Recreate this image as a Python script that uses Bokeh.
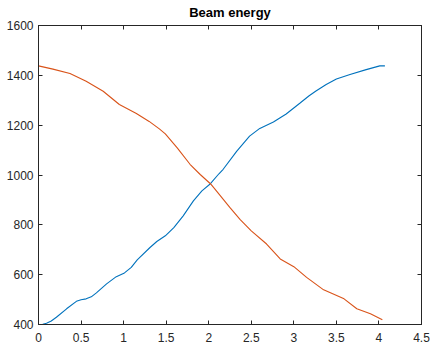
from bokeh.plotting import figure
from bokeh.models import (LinearAxis, FixedTicker, NumeralTickFormatter, Range1d,
                          CustomLabelingPolicy)
from bokeh.embed import file_html
from bokeh.resources import INLINE

# Rising energy trace: positions and values
rising_pos = [0.0, 0.05, 0.094, 0.15, 0.21, 0.33, 0.445, 0.5, 0.56, 0.62,
              0.68, 0.8, 0.914, 1.01, 1.09, 1.16, 1.31, 1.39, 1.49, 1.59,
              1.7, 1.82, 1.92, 2.02, 2.12, 2.17, 2.33, 2.48, 2.6, 2.76,
              2.91, 3.07, 3.18, 3.26, 3.38, 3.5, 3.66, 3.85, 4.01, 4.07]
rising_energy = [400, 401, 405, 414, 429, 463, 493, 499, 503, 511,
                 527, 563, 592, 607, 629, 659, 709, 733, 756, 789,
                 836, 896, 936, 965, 1005, 1023, 1096, 1156, 1187, 1213,
                 1245, 1288, 1318, 1337, 1363, 1385, 1403, 1423, 1438, 1438]

# Falling energy trace: positions and values
falling_pos = [0.0, 0.17, 0.37, 0.56, 0.76, 0.95, 1.15, 1.3, 1.42, 1.49,
               1.63, 1.78, 1.9, 2.02, 2.09, 2.25, 2.37, 2.5, 2.68, 2.84,
               3.0, 3.15, 3.35, 3.43, 3.59, 3.74, 3.9, 4.04]
falling_energy = [1438, 1425, 1407, 1376, 1336, 1283, 1247, 1215, 1185, 1165,
                  1109, 1043, 1002, 965, 936, 869, 821, 776, 723, 663,
                  632, 589, 539, 527, 503, 463, 443, 419]

x_ticks = [0, 0.5, 1, 1.5, 2, 2.5, 3, 3.5, 4, 4.5]
y_ticks = [400, 600, 800, 1000, 1200, 1400, 1600]

title_text = "Beam energy"

AX_COLOR = "#262626"
FONT = "Liberation Sans"

p = figure(width=430, height=344, output_backend="svg", toolbar_location=None,
           x_range=Range1d(0, 4.5), y_range=Range1d(400, 1600),
           min_border_left=38, min_border_right=9, min_border_top=24,
           min_border_bottom=20, x_axis_type=None, y_axis_type=None)

p.title.text = title_text
p.title.align = "center"
p.title.text_font = FONT
p.title.text_font_size = "13px"
p.title.text_font_style = "bold"
p.title.text_color = "#000000"
p.title.standoff = 4

p.background_fill_color = "white"
p.border_fill_color = "white"
p.outline_line_color = AX_COLOR
p.outline_line_width = 1
p.grid.visible = False

# Tick-only axes on the top and right edges carry no labels at all
no_labels = CustomLabelingPolicy(code="return []")


def style_axis(axis, show_labels):
    axis.major_tick_in = 4
    axis.major_tick_out = 0
    axis.minor_tick_in = 0
    axis.minor_tick_out = 0
    axis.axis_line_color = AX_COLOR
    axis.major_tick_line_color = AX_COLOR
    axis.major_label_text_font = FONT
    axis.major_label_text_color = AX_COLOR
    if show_labels:
        axis.major_label_text_font_size = "12px"
    else:
        axis.major_label_text_font_size = "1px"
        axis.major_label_standoff = 0
        axis.major_label_policy = no_labels


xb = LinearAxis(ticker=FixedTicker(ticks=x_ticks),
                formatter=NumeralTickFormatter(format="0.[0]"))
style_axis(xb, True)
xb.major_label_standoff = 8
p.add_layout(xb, "below")

xt = LinearAxis(ticker=FixedTicker(ticks=x_ticks))
style_axis(xt, False)
p.add_layout(xt, "above")

yl = LinearAxis(ticker=FixedTicker(ticks=y_ticks),
                formatter=NumeralTickFormatter(format="0"))
style_axis(yl, True)
yl.major_label_standoff = 5
p.add_layout(yl, "left")

yr = LinearAxis(ticker=FixedTicker(ticks=y_ticks))
style_axis(yr, False)
p.add_layout(yr, "right")

p.line(rising_pos, rising_energy, line_color="#0072BD", line_width=1.1)
p.line(falling_pos, falling_energy, line_color="#D95319", line_width=1.1)

open("out.html", "w").write(file_html(p, INLINE))
